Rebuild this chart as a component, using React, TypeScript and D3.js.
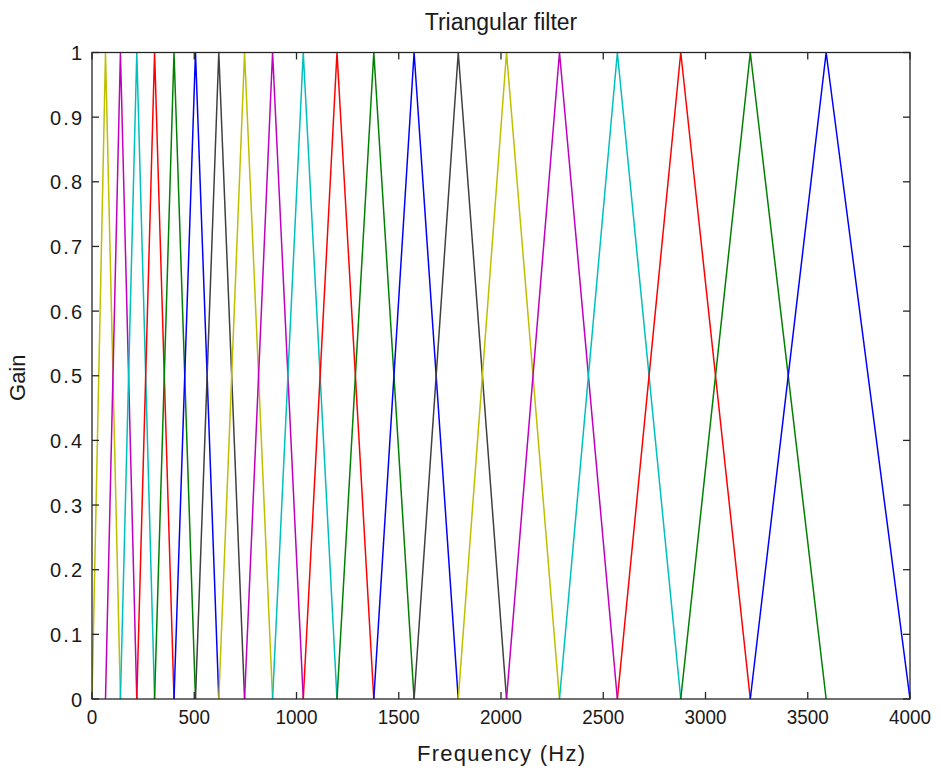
import React from "react";
import * as d3 from "d3";

// Filter band edges / centres (Hz)
const bandEdges = [0, 66, 139, 219, 306, 401, 506, 620, 746, 883, 1033, 1198, 1378, 1575, 1791, 2027, 2286, 2569, 2879, 3219, 3590, 4000];
// Colour of each of the 20 filters, left to right
const filterColors = [
  "#BFBF00", "#BF00BF", "#00BFBF", "#FF0000", "#008000", "#0000FF", "#404040",
  "#BFBF00", "#BF00BF", "#00BFBF", "#FF0000", "#008000", "#0000FF", "#404040",
  "#BFBF00", "#BF00BF", "#00BFBF", "#FF0000", "#008000", "#0000FF",
];
const xTicks = [0, 500, 1000, 1500, 2000, 2500, 3000, 3500, 4000];
const yTicks = [0, 0.1, 0.2, 0.3, 0.4, 0.5, 0.6, 0.7, 0.8, 0.9, 1];
const titleText = "Triangular filter";
const xLabelText = "Frequency (Hz)";
const yLabelText = "Gain";

const W = 941, H = 771;
const L = 92, R = 910, T = 52.5, B = 699;

export default function App() {
  const x = d3.scaleLinear().domain([0, 4000]).range([L, R]);
  const y = d3.scaleLinear().domain([0, 1]).range([B, T]);
  const line = d3.line<[number, number]>().x(d => x(d[0])).y(d => y(d[1]));
  const filters = filterColors.map((c, i) => ({
    color: c,
    pts: [[bandEdges[i], 0], [bandEdges[i + 1], 1], [bandEdges[i + 2], 0]] as [number, number][],
  }));
  const font = "Arial, 'Liberation Sans', Helvetica, sans-serif";
  const txt = "#1a1a1a";
  const tl = 7;
  const yFmt = (v: number) => (v === 0 || v === 1 ? String(v) : d3.format(".1f")(v));
  return (
    <div style={{ position: "absolute", left: 0, top: 0, width: W, height: H, background: "#fff" }}>
      <svg width={W} height={H} style={{ display: "block" }} fontFamily={font}>
        <rect x={0} y={0} width={W} height={H} fill="#fff" />
        <defs>
          <clipPath id="clip">
            <rect x={L} y={T - 1} width={R - L} height={B - T + 2} />
          </clipPath>
        </defs>
        <g clipPath="url(#clip)">
          {filters.map((f, i) => (
            <path key={i} d={line(f.pts) || ""} fill="none" stroke={f.color} strokeWidth={1.5} />
          ))}
        </g>
        {/* box */}
        <rect x={L} y={T} width={R - L} height={B - T} fill="none" stroke="#262626" strokeWidth={1.3} />
        {/* x ticks */}
        {xTicks.map(v => (
          <g key={"x" + v}>
            <line x1={x(v)} x2={x(v)} y1={B} y2={B - tl} stroke="#262626" strokeWidth={1.3} />
            <line x1={x(v)} x2={x(v)} y1={T} y2={T + tl} stroke="#262626" strokeWidth={1.3} />
            <text x={x(v)} y={724} textAnchor="middle" fontSize={20} fill={txt}
              textLength={String(v).length * 10.5} lengthAdjust="spacingAndGlyphs">{String(v)}</text>
          </g>
        ))}
        {/* y ticks */}
        {yTicks.map(v => (
          <g key={"y" + v}>
            <line x1={L} x2={L + tl} y1={y(v)} y2={y(v)} stroke="#262626" strokeWidth={1.3} />
            <line x1={R} x2={R - tl} y1={y(v)} y2={y(v)} stroke="#262626" strokeWidth={1.3} />
            {yFmt(v).length === 1 ? (
              <text x={82} y={y(v) + 7.5} textAnchor="end" fontSize={20} fill={txt}>{yFmt(v)}</text>
            ) : (
              <text x={82} y={y(v) + 7.5} textAnchor="end" fontSize={20} fill={txt}
                textLength={32} lengthAdjust="spacing">{yFmt(v)}</text>
            )}
          </g>
        ))}
        <text x={(L + R) / 2} y={30} textAnchor="middle" fontSize={23} fill={txt}>{titleText}</text>
        <text x={(L + R) / 2} y={761} textAnchor="middle" fontSize={22} fill={txt}
          textLength={168} lengthAdjust="spacing">{xLabelText}</text>
        <text transform={`translate(25,${(T + B) / 2 + 2}) rotate(-90)`} textAnchor="middle" fontSize={22} fill={txt}>{yLabelText}</text>
      </svg>
    </div>
  );
}
